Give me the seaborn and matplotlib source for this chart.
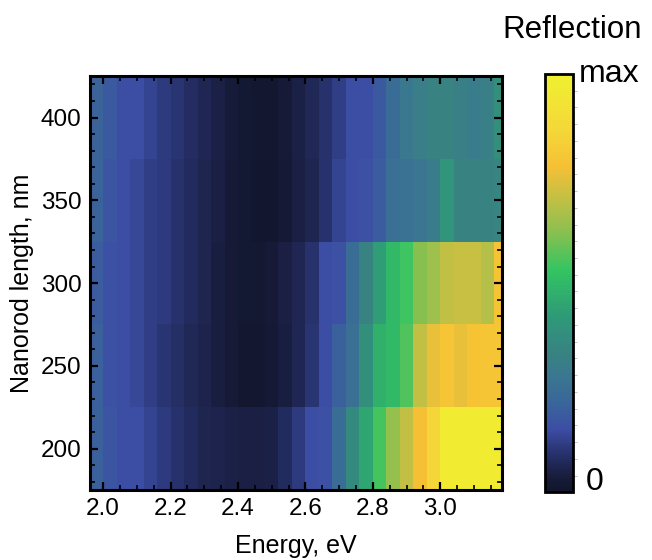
import numpy as np
import pandas as pd
import matplotlib
matplotlib.use("Agg")
import matplotlib.pyplot as plt
from matplotlib.colors import LinearSegmentedColormap
from matplotlib.ticker import FixedLocator
import seaborn as sns

# ---------------- data ----------------
energy_ev = [1.98, 2.02, 2.06, 2.10, 2.14, 2.18, 2.22, 2.26, 2.30, 2.34,
             2.38, 2.42, 2.46, 2.50, 2.54, 2.58, 2.62, 2.66, 2.70, 2.74,
             2.78, 2.82, 2.86, 2.90, 2.94, 2.98, 3.02, 3.06, 3.10, 3.14, 3.18]
nanorod_length = [400, 350, 300, 250, 200]

refl_400 = [0.21, 0.18, 0.15, 0.15, 0.13, 0.11, 0.10, 0.08, 0.065, 0.05,
            0.035, 0.02, 0.012, 0.015, 0.03, 0.05, 0.07, 0.09, 0.12, 0.15,
            0.15, 0.18, 0.24, 0.28, 0.31, 0.33, 0.33, 0.32, 0.30, 0.32, 0.38]
refl_350 = [0.21, 0.17, 0.15, 0.14, 0.12, 0.11, 0.09, 0.075, 0.06, 0.045,
            0.03, 0.02, 0.01, 0.01, 0.025, 0.045, 0.06, 0.09, 0.13, 0.15,
            0.16, 0.19, 0.25, 0.26, 0.27, 0.30, 0.40, 0.33, 0.33, 0.33, 0.34]
refl_300 = [0.19, 0.16, 0.15, 0.14, 0.12, 0.11, 0.09, 0.075, 0.06, 0.04,
            0.03, 0.02, 0.018, 0.03, 0.045, 0.065, 0.09, 0.15, 0.16, 0.24,
            0.33, 0.43, 0.50, 0.54, 0.62, 0.65, 0.70, 0.71, 0.71, 0.68, 0.79]
refl_250 = [0.20, 0.16, 0.15, 0.14, 0.12, 0.10, 0.085, 0.07, 0.055, 0.04,
            0.03, 0.015, 0.012, 0.025, 0.04, 0.065, 0.10, 0.15, 0.20, 0.25,
            0.38, 0.48, 0.50, 0.56, 0.70, 0.76, 0.80, 0.76, 0.79, 0.80, 0.80]
refl_200 = [0.20, 0.17, 0.15, 0.15, 0.13, 0.11, 0.09, 0.075, 0.06, 0.055,
            0.05, 0.045, 0.045, 0.05, 0.075, 0.11, 0.15, 0.16, 0.24, 0.36,
            0.45, 0.55, 0.64, 0.70, 0.78, 0.86, 0.97, 0.97, 0.98, 0.97, 0.97]

x_major = [2.0, 2.2, 2.4, 2.6, 2.8, 3.0]
x_minor = [round(1.95 + 0.05 * i, 2) for i in range(26)]
y_major = [200, 250, 300, 350, 400]
y_minor = list(range(180, 430, 10))

df = pd.DataFrame([refl_400, refl_350, refl_300, refl_250, refl_200],
                  index=nanorod_length, columns=energy_ev)

# ---------------- style ----------------
sns.set_style("ticks")
plt.rcParams["font.family"] = ["Liberation Sans", "DejaVu Sans"]
plt.rcParams["text.color"] = "black"
plt.rcParams["axes.labelcolor"] = "black"
plt.rcParams["xtick.color"] = "black"
plt.rcParams["ytick.color"] = "black"

cmap = LinearSegmentedColormap.from_list("refl", [
    (0.00, "#11142a"), (0.03, "#161b38"), (0.06, "#1e2550"),
    (0.10, "#2a3575"), (0.15, "#3c4ea5"), (0.22, "#3a6898"),
    (0.28, "#3a7890"), (0.33, "#388282"), (0.42, "#2e9a78"),
    (0.53, "#33c462"), (0.62, "#88c050"), (0.70, "#c0c045"),
    (0.78, "#f6c035"), (0.87, "#f4d838"), (1.00, "#f0f030")])

fig = plt.figure(figsize=(6.52, 5.6), dpi=100)
ax = fig.add_axes([0.138, 0.125, 0.632, 0.739])
cax = fig.add_axes([0.836, 0.121, 0.043, 0.747])

sns.heatmap(df, cmap=cmap, vmin=0, vmax=1, ax=ax, cbar_ax=cax,
            xticklabels=False, yticklabels=False)
ax.set_axisbelow(False)

step = energy_ev[1] - energy_ev[0]
e0 = energy_ev[0] - step / 2
top_len = nanorod_length[0] + 25
row_h = 50.0

def ex(e):
    return (e - e0) / step

def ly(l):
    return (top_len - l) / row_h

ax.set_xlim(ex(1.961), ex(3.183))
ax.set_ylim(len(nanorod_length), 0)

ax.xaxis.set_major_locator(FixedLocator([ex(v) for v in x_major]))
ax.set_xticklabels([f"{v:.1f}" for v in x_major])
ax.xaxis.set_minor_locator(FixedLocator([ex(v) for v in x_minor]))
ax.yaxis.set_major_locator(FixedLocator([ly(v) for v in y_major]))
ax.set_yticklabels([str(v) for v in y_major], rotation=0)
ax.yaxis.set_minor_locator(FixedLocator([ly(v) for v in y_minor]))

ax.tick_params(which="both", direction="in", top=True, right=True,
               bottom=True, left=True, color="black", labelsize=17.5,
               labelcolor="black")
ax.tick_params(which="major", length=6, width=1.6, pad=6)
ax.tick_params(which="minor", length=3.5, width=1.2)
for s in ax.spines.values():
    s.set_visible(True)
    s.set_linewidth(2.2)
    s.set_color("black")

ax.set_xlabel("Energy, eV", fontsize=18, labelpad=10)
ax.set_ylabel("Nanorod length, nm", fontsize=18, labelpad=5)

# colorbar
cbar = ax.collections[0].colorbar
cbar.outline.set_visible(True)
cbar.outline.set_linewidth(2)
cbar.outline.set_edgecolor("black")
cax.yaxis.set_major_locator(FixedLocator([]))
cax.yaxis.set_minor_locator(FixedLocator([0.04 * i for i in range(1, 25)]))
cax.tick_params(which="minor", direction="out", length=3, width=0.6,
                color="#bbbbbb", right=True, left=False)
cax.text(1.2, 1.0, "max", transform=cax.transAxes, fontsize=23,
         ha="left", va="center")
cax.text(1.45, 0.025, "0", transform=cax.transAxes, fontsize=23,
         ha="left", va="center")
fig.text(0.877, 0.946, "Reflection", fontsize=22.5, ha="center", va="center")

fig.savefig("out.png", dpi=100)
